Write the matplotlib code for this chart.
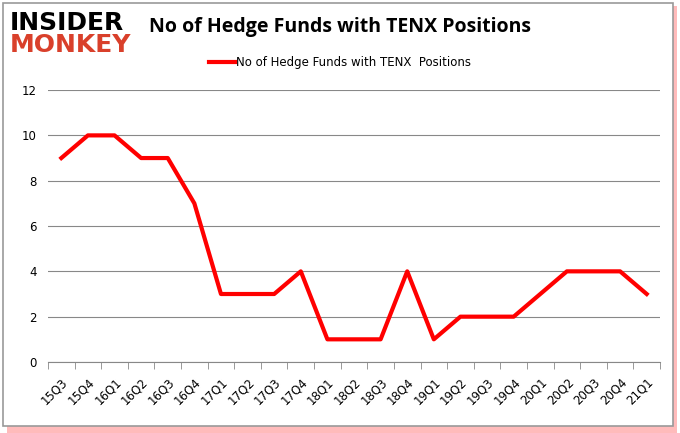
import matplotlib
matplotlib.use("Agg")
import matplotlib.pyplot as plt
from matplotlib.patches import Rectangle
import numpy as np

# data
quarters = ["15Q3", "15Q4", "16Q1", "16Q2", "16Q3", "16Q4", "17Q1", "17Q2",
            "17Q3", "17Q4", "18Q1", "18Q2", "18Q3", "18Q4", "19Q1", "19Q2",
            "19Q3", "19Q4", "20Q1", "20Q2", "20Q3", "20Q4", "21Q1"]
funds = [9, 10, 10, 9, 9, 7, 3, 3, 3, 4, 1, 1, 1, 4, 1, 2, 2, 2, 3, 4, 4, 4, 3]
series_name = "No of Hedge Funds with TENX  Positions"

fig = plt.figure(figsize=(6.8, 4.33), dpi=100)

# outer frame with red shadow
fig.patches.append(Rectangle((0.01, 0.0), 0.985, 0.985, transform=fig.transFigure,
                             facecolor="#ff2020", edgecolor="none", alpha=0.3, zorder=-3))
fig.patches.append(Rectangle((0.005, 0.016), 0.985, 0.977, transform=fig.transFigure,
                             facecolor="white", edgecolor="#999999", linewidth=1.2, zorder=-2))

ax = fig.add_axes([0.0706, 0.164, 0.9, 0.628])
x = np.arange(len(quarters))
line, = ax.plot(x, funds, color="#ff0000", linewidth=3, label=series_name)

ax.set_xlim(-0.5, len(quarters) - 0.5)
ax.set_ylim(0, 12)
ax.set_yticks(range(0, 13, 2))
ax.set_xticks(x)
ax.set_xticklabels(quarters, rotation=45, ha="right", rotation_mode="anchor")
ax.set_xticks(np.arange(-0.5, len(quarters), 1), minor=True)
ax.tick_params(axis="x", which="major", length=0, pad=10, labelsize=8.5)
ax.tick_params(axis="x", which="minor", length=5, color="#888888")
ax.tick_params(axis="y", length=0, labelsize=8.5, pad=8)
ax.grid(axis="y", color="#888888", linewidth=0.8)
ax.set_axisbelow(True)
for s in ["top", "right", "left"]:
    ax.spines[s].set_visible(False)
ax.spines["bottom"].set_color("#888888")

fig.legend(handles=[line], loc="center", bbox_to_anchor=(0.5, 0.855), frameon=False,
           fontsize=8.5, handlelength=2.2, handletextpad=0.1)

fig.text(0.5, 0.937, "No of Hedge Funds with TENX Positions", ha="center", va="center",
         fontsize=14, fontweight="bold", family="Open Sans")
fig.text(0.014, 0.946, "INSIDER", ha="left", va="center", fontsize=18,
         fontweight="heavy", color="black", family="DejaVu Sans")
fig.text(0.014, 0.895, "MONKEY", ha="left", va="center", fontsize=18,
         fontweight="heavy", color="#d9402b", family="DejaVu Sans")

fig.savefig("out.png", dpi=100)
